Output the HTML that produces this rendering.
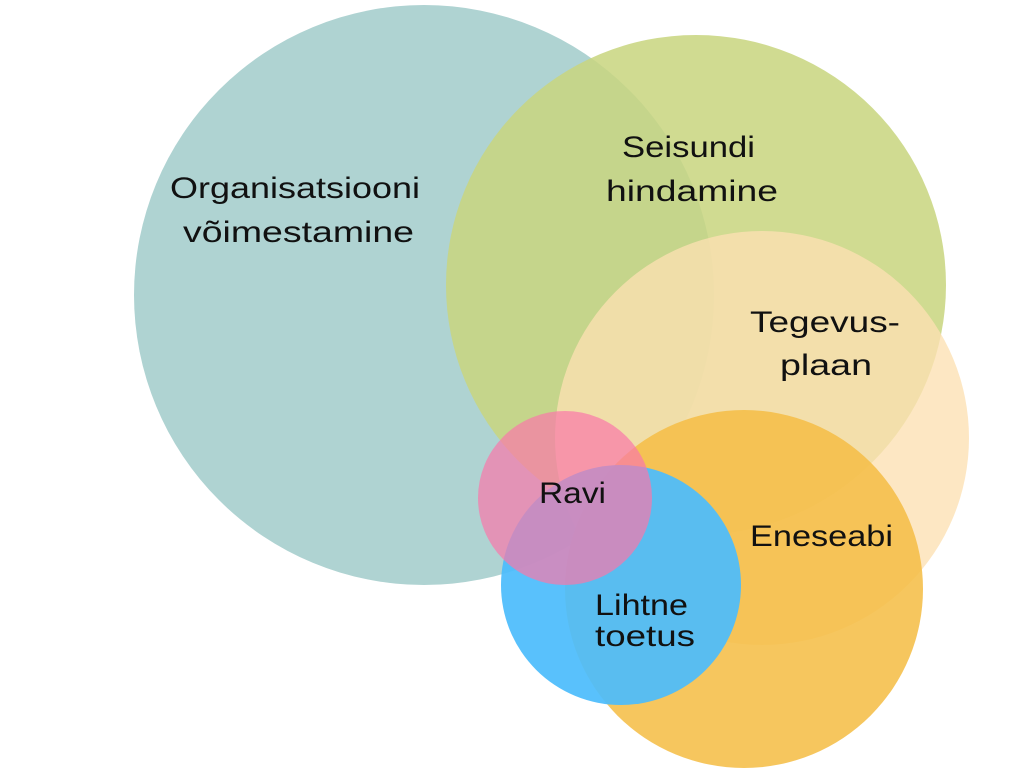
<!DOCTYPE html>
<html><head><meta charset="utf-8"><style>
html,body{margin:0;padding:0;background:#fff;}
svg{display:block}
text{font-family:"Liberation Sans",sans-serif;font-size:30px;fill:#111;}
</style></head><body>
<svg width="1024" height="768" viewBox="0 0 1024 768">
<circle cx="424" cy="295" r="290" fill="#afd3d2"/>
<circle cx="696" cy="285" r="250" fill="rgba(200,213,127,0.86)"/>
<circle cx="762" cy="438" r="207" fill="rgba(253,224,178,0.78)"/>
<circle cx="744" cy="589" r="179" fill="rgba(245,190,72,0.88)"/>
<circle cx="621" cy="585" r="120" fill="rgba(76,188,252,0.93)"/>
<circle cx="565" cy="498" r="87" fill="rgba(250,120,170,0.7)"/>
<g lengthAdjust="spacingAndGlyphs">
<text x="170" y="198" textLength="250" lengthAdjust="spacingAndGlyphs">Organisatsiooni</text>
<text x="183" y="242" textLength="231" lengthAdjust="spacingAndGlyphs">võimestamine</text>
<text x="622" y="157" textLength="133" lengthAdjust="spacingAndGlyphs">Seisundi</text>
<text x="606" y="201" textLength="172" lengthAdjust="spacingAndGlyphs">hindamine</text>
<text x="750" y="332" textLength="150" lengthAdjust="spacingAndGlyphs">Tegevus-</text>
<text x="780" y="375" textLength="92" lengthAdjust="spacingAndGlyphs">plaan</text>
<text x="750" y="546" textLength="143" lengthAdjust="spacingAndGlyphs">Eneseabi</text>
<text x="539" y="503" textLength="67" lengthAdjust="spacingAndGlyphs">Ravi</text>
<text x="595" y="615" textLength="93" lengthAdjust="spacingAndGlyphs">Lihtne</text>
<text x="595" y="646" textLength="100" lengthAdjust="spacingAndGlyphs">toetus</text>
</g>
</svg>
</body></html>
